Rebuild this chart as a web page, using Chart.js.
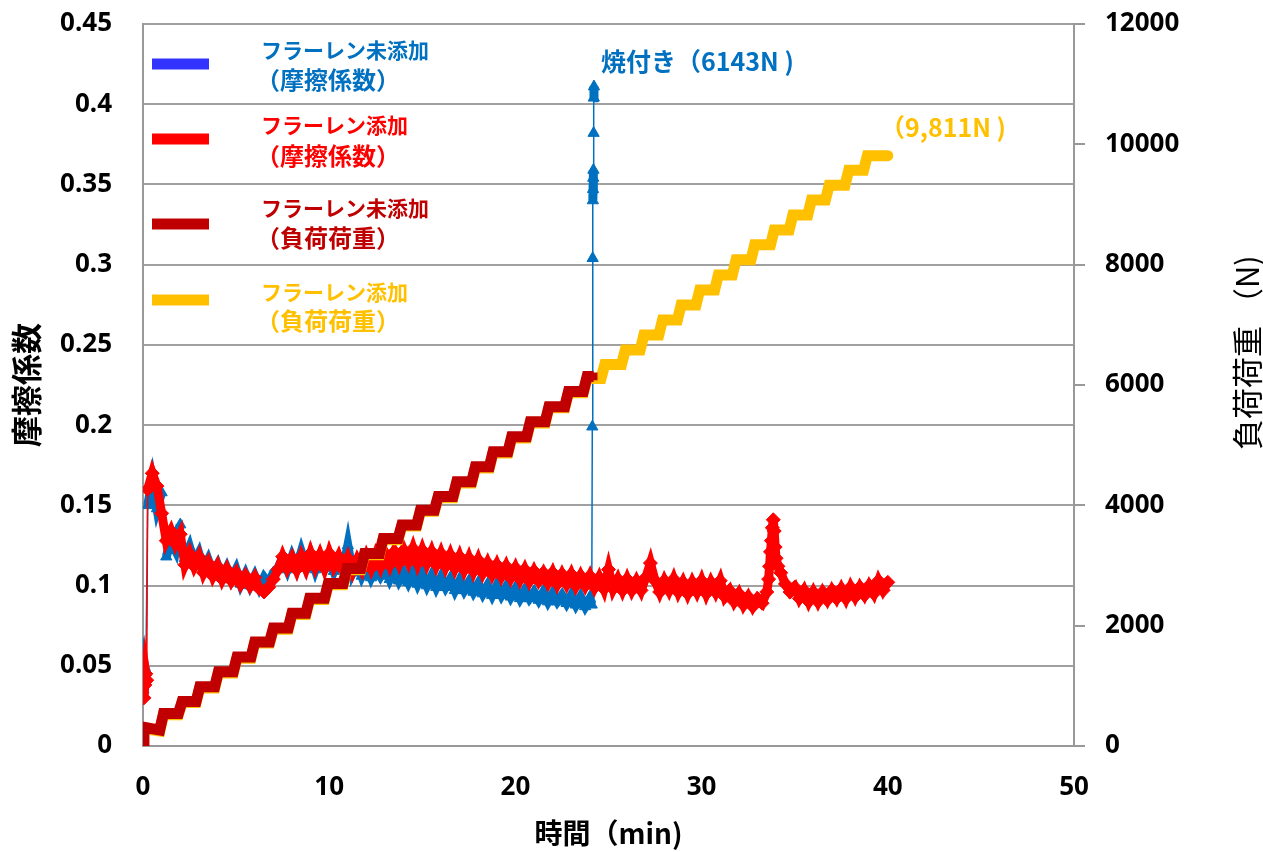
<!DOCTYPE html>
<html lang="ja">
<head>
<meta charset="utf-8">
<title>摩擦係数と負荷荷重</title>
<script src="https://cdn.jsdelivr.net/npm/chart.js@4.4.1/dist/chart.umd.min.js"></script>
<style>
  html, body { margin: 0; padding: 0; background: #fff; }
  #wrap { position: relative; width: 1263px; height: 852px; }
</style>
</head>
<body>
<div id="wrap"><canvas id="frictionChart"></canvas></div>
<script>
// tick labels
const xTickLabels = ["0", "10", "20", "30", "40", "50"];
const leftTickLabels = ["0", "0.05", "0.1", "0.15", "0.2", "0.25", "0.3", "0.35", "0.4", "0.45"];
const rightTickLabels = ["0", "2000", "4000", "6000", "8000", "10000", "12000"];

// legend text
const legendTitle = ["フラーレン未添加", "フラーレン添加", "フラーレン未添加", "フラーレン添加"];
const legendSub = ["（摩擦係数）", "（摩擦係数）", "（負荷荷重）", "（負荷荷重）"];

// sampling times (min)
const gridTime = [
  0.25, 0.5, 0.75, 1, 1.25, 1.5, 1.75, 2,
  2.25, 2.5, 2.75, 3, 3.25, 3.5, 3.75, 4,
  4.25, 4.5, 4.75, 5, 5.25, 5.5, 5.75, 6,
  6.25, 6.5, 6.75, 7, 7.25, 7.5, 7.75, 8,
  8.25, 8.5, 8.75, 9, 9.25, 9.5, 9.75, 10,
  10.25, 10.5, 10.75, 11, 11.25, 11.5, 11.75, 12,
  12.25, 12.5, 12.75, 13, 13.25, 13.5, 13.75, 14,
  14.25, 14.5, 14.75, 15, 15.25, 15.5, 15.75, 16,
  16.25, 16.5, 16.75, 17, 17.25, 17.5, 17.75, 18,
  18.25, 18.5, 18.75, 19, 19.25, 19.5, 19.75, 20,
  20.25, 20.5, 20.75, 21, 21.25, 21.5, 21.75, 22,
  22.25, 22.5, 22.75, 23, 23.25, 23.5, 23.75, 24,
  24.25, 24.5, 24.75, 25, 25.25, 25.5, 25.75, 26,
  26.25, 26.5, 26.75, 27, 27.25, 27.5, 27.75, 28,
  28.25, 28.5, 28.75, 29, 29.25, 29.5, 29.75, 30,
  30.25, 30.5, 30.75, 31, 31.25, 31.5, 31.75, 32,
  32.25, 32.5, 32.75, 33, 33.25, 33.5, 33.75, 34,
  34.25, 34.5, 34.75, 35, 35.25, 35.5, 35.75, 36,
  36.25, 36.5, 36.75, 37, 37.25, 37.5, 37.75, 38,
  38.25, 38.5, 38.75, 39, 39.25, 39.5, 39.75, 40,
];

// フラーレン未添加 friction coefficient
const blueStartTime = [0.02, 0.05, 0.1, 0.15];
const blueStartMu = [0.035, 0.043, 0.049, 0.046];
const blueMu = [
  0.150, 0.165, 0.148, 0.158, 0.118, 0.128, 0.122, 0.138,
  0.117, 0.124, 0.114, 0.120, 0.110, 0.116, 0.108, 0.113,
  0.105, 0.111, 0.104, 0.110, 0.101, 0.107, 0.100, 0.106,
  0.099, 0.105, 0.101, 0.108, 0.111, 0.117, 0.110, 0.118,
  0.111, 0.121, 0.112, 0.119, 0.110, 0.118, 0.111, 0.117,
  0.109, 0.116, 0.110, 0.125, 0.108, 0.114, 0.106, 0.112,
  0.105, 0.111, 0.106, 0.111, 0.104, 0.110, 0.103, 0.108,
  0.102, 0.108, 0.101, 0.107, 0.100, 0.106, 0.099, 0.105,
  0.099, 0.104, 0.097, 0.103, 0.097, 0.102, 0.096, 0.101,
  0.095, 0.100, 0.094, 0.100, 0.094, 0.099, 0.093, 0.098,
  0.092, 0.097, 0.092, 0.096, 0.091, 0.096, 0.090, 0.095,
  0.090, 0.094, 0.089, 0.094, 0.088, 0.093, 0.087, 0.092,
];
const blueSpikeTime = [24.1, 24.13, 24.15, 24.16, 24.17, 24.18, 24.19, 24.2, 24.21, 24.22];
const blueSpikeMu = [0.088, 0.199, 0.304, 0.340, 0.347, 0.354, 0.359, 0.382, 0.404, 0.411];

// フラーレン添加 friction coefficient
const redStartTime = [0.05, 0.1, 0.15, 0.2];
const redStartMu = [0.030, 0.038, 0.045, 0.041];
const redMu = [
  0.160, 0.170, 0.162, 0.145, 0.128, 0.134, 0.126, 0.132,
  0.113, 0.120, 0.112, 0.118, 0.108, 0.114, 0.106, 0.112,
  0.104, 0.110, 0.103, 0.108, 0.101, 0.106, 0.100, 0.105,
  0.098, 0.096, 0.099, 0.104, 0.110, 0.118, 0.111, 0.117,
  0.110, 0.118, 0.111, 0.120, 0.112, 0.119, 0.111, 0.120,
  0.112, 0.118, 0.110, 0.117, 0.109, 0.116, 0.110, 0.118,
  0.111, 0.119, 0.112, 0.120, 0.113, 0.121, 0.114, 0.122,
  0.115, 0.123, 0.114, 0.122, 0.114, 0.121, 0.113, 0.120,
  0.112, 0.119, 0.111, 0.118, 0.110, 0.117, 0.109, 0.116,
  0.108, 0.114, 0.107, 0.113, 0.106, 0.112, 0.105, 0.111,
  0.104, 0.110, 0.103, 0.109, 0.103, 0.108, 0.102, 0.108,
  0.101, 0.107, 0.101, 0.107, 0.100, 0.106, 0.100, 0.106,
  0.099, 0.105, 0.098, 0.110, 0.098, 0.104, 0.097, 0.104,
  0.097, 0.103, 0.097, 0.105, 0.114, 0.103, 0.096, 0.103,
  0.097, 0.104, 0.096, 0.102, 0.095, 0.102, 0.096, 0.103,
  0.095, 0.102, 0.096, 0.103, 0.093, 0.097, 0.090, 0.095,
  0.088, 0.093, 0.087, 0.092, 0.089, 0.096, 0.128, 0.117,
  0.108, 0.101, 0.096, 0.099, 0.092, 0.097, 0.090, 0.096,
  0.090, 0.096, 0.091, 0.097, 0.092, 0.098, 0.092, 0.099,
  0.093, 0.099, 0.094, 0.100, 0.095, 0.103, 0.097, 0.102,
];
const redSpikeTime = [33.6, 33.65, 33.7, 33.8, 33.85, 33.9, 33.95, 34.1];
const redSpikeMu = [0.104, 0.112, 0.121, 0.136, 0.141, 0.134, 0.124, 0.112];

// load steps (N): start and end of every flat part
const yellowTime = [
  0.05, 0.9, 1.1, 1.9, 2.1, 2.85, 3.05, 3.85, 4.05, 4.85,
  5.05, 5.8, 6.0, 6.8, 7.0, 7.8, 8.0, 8.75, 8.95, 9.75,
  9.95, 10.75, 10.95, 11.7, 11.9, 12.7, 12.9, 13.7, 13.9, 14.7,
  14.9, 15.65, 15.85, 16.65, 16.85, 17.65, 17.85, 18.6, 18.8, 19.6,
  19.8, 20.6, 20.8, 21.6, 21.8, 22.65, 22.85, 23.65, 23.85, 24.6,
  24.8, 25.7, 25.9, 26.7, 26.9, 27.7, 27.9, 28.7, 28.9, 29.7,
  29.9, 30.7, 30.9, 31.65, 31.85, 32.65, 32.85, 33.7, 33.9, 34.7,
  34.9, 35.7, 35.9, 36.65, 36.85, 37.7, 37.9, 38.7, 38.9, 40.0,
];
const yellowLoad = [
  290, 250, 520, 520, 722, 722, 965, 965, 1215, 1215,
  1460, 1460, 1710, 1710, 1940, 1940, 2185, 2185, 2435, 2435,
  2680, 2680, 2930, 2930, 3180, 3180, 3430, 3430, 3655, 3655,
  3900, 3900, 4125, 4125, 4370, 4370, 4620, 4620, 4870, 4870,
  5120, 5120, 5370, 5370, 5620, 5620, 5870, 5870, 6110, 6110,
  6340, 6340, 6580, 6580, 6830, 6830, 7080, 7080, 7330, 7330,
  7580, 7580, 7830, 7830, 8080, 8080, 8330, 8330, 8575, 8575,
  8825, 8825, 9075, 9075, 9320, 9320, 9570, 9570, 9811, 9811,
];
const darkRedTime = [
  0, 0.05, 0.9, 1.1, 1.9, 2.1, 2.85, 3.05, 3.85, 4.05, 4.85,
  5.05, 5.8, 6.0, 6.8, 7.0, 7.8, 8.0, 8.75, 8.95, 9.75,
  9.95, 10.75, 10.95, 11.7, 11.9, 12.7, 12.9, 13.7, 13.9, 14.7,
  14.9, 15.65, 15.85, 16.65, 16.85, 17.65, 17.85, 18.6, 18.8, 19.6,
  19.8, 20.6, 20.8, 21.6, 21.8, 22.65, 22.85, 23.65, 23.85, 24.2,
];
const darkRedLoad = [
  0, 310, 265, 540, 540, 740, 740, 985, 985, 1235, 1235,
  1480, 1480, 1730, 1730, 1960, 1960, 2205, 2205, 2455, 2455,
  2700, 2700, 2950, 2950, 3200, 3200, 3450, 3450, 3675, 3675,
  3920, 3920, 4145, 4145, 4390, 4390, 4640, 4640, 4890, 4890,
  5140, 5140, 5390, 5390, 5640, 5640, 5890, 5890, 6143, 6143,
];

function toPoints(times, values) {
  return values.map((v, i) => ({ x: times[i], y: v }));
}

const blueData = toPoints(blueStartTime, blueStartMu)
  .concat(toPoints(gridTime, blueMu), toPoints(blueSpikeTime, blueSpikeMu));
const redData = toPoints(redStartTime, redStartMu)
  .concat(toPoints(gridTime, redMu), toPoints(redSpikeTime, redSpikeMu))
  .sort((a, b) => a.x - b.x);

const JP = '"Noto Sans CJK JP", sans-serif';
const tickFont = { family: '"Noto Sans", sans-serif', size: 26, weight: "bold" };

// dense measurement band: thick between neighbours, thin on the jumps
const bandWidth = (ctx) => (Math.abs(ctx.p1.parsed.y - ctx.p0.parsed.y) > 0.02 ? 1.5 : 9);

// legend, notes and the right axis title drawn on top
const overlayText = {
  id: "overlayText",
  afterDraw(chart) {
    const ctx = chart.ctx;
    ctx.save();
    const sampleColors = ["#3333FF", "#FF0000", "#C00000", "#FFC000"];
    const textColors = ["#0070C0", "#FF0000", "#C00000", "#FFC000"];
    const sampleY = [64, 139, 224, 300];
    const line1Y = [50, 125, 208, 292];
    const line2Y = [80, 156, 238, 321];
    ctx.textBaseline = "middle";
    ctx.textAlign = "left";
    for (let i = 0; i < 4; i++) {
      ctx.strokeStyle = sampleColors[i];
      ctx.lineWidth = 11;
      ctx.beginPath();
      ctx.moveTo(152, sampleY[i]);
      ctx.lineTo(209, sampleY[i]);
      ctx.stroke();
      ctx.fillStyle = textColors[i];
      ctx.font = "bold 21px " + JP;
      ctx.fillText(legendTitle[i], 261, line1Y[i]);
      ctx.font = "bold 24px " + JP;
      ctx.fillText(legendSub[i], 256, line2Y[i]);
    }

    ctx.font = "bold 25px " + JP;
    ctx.fillStyle = "#0070C0";
    ctx.fillText("焼付き（6143N )", 601, 61);
    ctx.fillStyle = "#FFC000";
    ctx.fillText("（9,811N )", 880, 127);

    ctx.fillStyle = "#000";
    ctx.font = "31px " + JP;
    ctx.translate(1247, 450);
    ctx.rotate(-Math.PI / 2);
    ctx.fillText("負荷荷重 （N)", 0, 0);
    ctx.restore();
  },
};

// keep the plot box fixed: 143..1074 across, 24..746 down
function fixWidth(w) {
  return (scale) => {
    scale.width = w;
    scale.paddingTop = 0;
    scale.paddingBottom = 0;
  };
}

new Chart(document.getElementById("frictionChart"), {
  type: "line",
  data: {
    datasets: [
      {
        label: "フラーレン未添加（負荷荷重）",
        data: toPoints(darkRedTime, darkRedLoad),
        yAxisID: "y2",
        borderColor: "#C00000",
        backgroundColor: "#C00000",
        borderWidth: 11,
        pointStyle: "rect",
        pointRadius: 5.5,
        pointBorderWidth: 0,
      },
      {
        label: "フラーレン添加（負荷荷重）",
        data: toPoints(yellowTime, yellowLoad),
        yAxisID: "y2",
        borderColor: "#FFC000",
        backgroundColor: "#FFC000",
        borderWidth: 11,
        borderCapStyle: "round",
        pointRadius: 0,
      },
      {
        label: "フラーレン添加（摩擦係数）",
        data: redData,
        yAxisID: "y",
        borderColor: "#FF0000",
        backgroundColor: "#FF0000",
        borderWidth: 2,
        segment: { borderWidth: bandWidth },
        pointStyle: "rectRot",
        pointRadius: 7,
        pointBorderWidth: 1,
      },
      {
        label: "フラーレン未添加（摩擦係数）",
        data: blueData,
        yAxisID: "y",
        borderColor: "#0070C0",
        backgroundColor: "#0070C0",
        borderWidth: 2,
        segment: { borderWidth: bandWidth },
        pointStyle: "triangle",
        pointRadius: 6.5,
        pointBorderWidth: 1,
      },
    ],
  },
  options: {
    responsive: true,
    maintainAspectRatio: false,
    animation: false,
    layout: { padding: { top: 24 } },
    plugins: {
      legend: { display: false },
      tooltip: { enabled: false },
    },
    scales: {
      x: {
        type: "linear",
        position: "bottom",
        min: 0,
        max: 50,
        ticks: {
          stepSize: 10,
          color: "#000",
          font: tickFont,
          padding: 26,
          maxRotation: 0,
          callback: (v) => xTickLabels[Math.round(v / 10)],
        },
        grid: { display: false, drawTicks: false },
        border: { color: "#999999", width: 2 },
        title: {
          display: true,
          text: "時間（min)",
          color: "#000",
          font: { family: JP, size: 28, weight: "bold" },
          padding: { top: 0, bottom: 2 },
        },
        afterFit: (scale) => { scale.height = 106; },
      },
      y: {
        position: "left",
        min: 0,
        max: 0.45,
        ticks: {
          stepSize: 0.05,
          color: "#000",
          font: tickFont,
          padding: 31,
          callback: (v) => leftTickLabels[Math.round(v / 0.05)],
        },
        grid: { color: "#A0A0A0", lineWidth: 2, drawTicks: false },
        border: { color: "#999999", width: 2 },
        title: {
          display: true,
          text: "摩擦係数",
          color: "#000",
          font: { family: JP, size: 31, weight: "bold" },
          padding: { top: 8, bottom: 0 },
        },
        afterFit: fixWidth(143),
      },
      y2: {
        position: "right",
        min: 0,
        max: 12000,
        ticks: {
          stepSize: 2000,
          color: "#000",
          font: tickFont,
          padding: 20,
          callback: (v) => rightTickLabels[Math.round(v / 2000)],
        },
        grid: { drawOnChartArea: false, drawTicks: true, tickLength: 11, color: "#999999", lineWidth: 2 },
        border: { color: "#999999", width: 2 },
        afterFit: fixWidth(189),
      },
    },
  },
  plugins: [overlayText],
});
</script>
</body>
</html>
